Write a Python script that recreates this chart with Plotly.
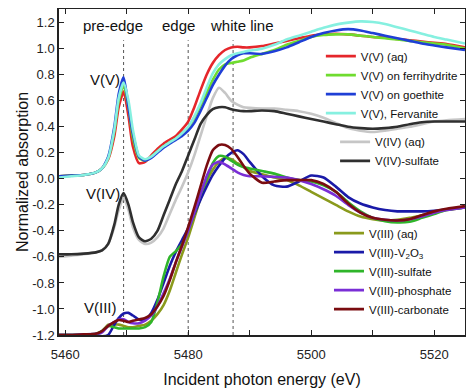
import plotly.graph_objects as go

# ---------------- data ----------------
energy = [5459, 5461, 5463, 5465, 5466, 5467, 5468, 5468.7, 5469.5, 5470.3, 5471, 5472,
          5473, 5474, 5475, 5476, 5477, 5478, 5479, 5480, 5481, 5482, 5483, 5484, 5485,
          5486, 5487, 5488, 5489, 5490, 5492, 5494, 5496, 5498, 5500, 5502, 5504, 5506,
          5508, 5510, 5512, 5514, 5516, 5518, 5520, 5522, 5525]

v5_aq = [0.02, 0.025, 0.03, 0.05, 0.08, 0.15, 0.33, 0.55, 0.67, 0.48, 0.25, 0.12,
         0.13, 0.18, 0.23, 0.27, 0.30, 0.33, 0.38, 0.44, 0.55, 0.68, 0.80, 0.89, 0.95,
         0.99, 1.01, 1.015, 1.01, 1.01, 1.02, 1.04, 1.06, 1.08, 1.10, 1.11, 1.115, 1.11,
         1.10, 1.09, 1.085, 1.075, 1.065, 1.055, 1.045, 1.035, 1.01]
v5_ferri = [0.02, 0.025, 0.03, 0.05, 0.08, 0.16, 0.37, 0.60, 0.72, 0.55, 0.32, 0.16,
            0.14, 0.17, 0.21, 0.25, 0.28, 0.31, 0.35, 0.39, 0.47, 0.56, 0.66, 0.76, 0.84,
            0.88, 0.89, 0.90, 0.91, 0.93, 0.96, 0.99, 1.03, 1.06, 1.09, 1.105, 1.11, 1.11,
            1.10, 1.09, 1.08, 1.07, 1.06, 1.05, 1.04, 1.03, 1.00]
v5_goeth = [0.02, 0.025, 0.03, 0.05, 0.08, 0.17, 0.40, 0.65, 0.78, 0.55, 0.35, 0.17,
            0.14, 0.16, 0.20, 0.24, 0.27, 0.30, 0.33, 0.37, 0.43, 0.52, 0.62, 0.72, 0.80,
            0.87, 0.92, 0.95, 0.965, 0.965, 0.96, 0.98, 1.01, 1.05, 1.09, 1.12, 1.14, 1.15,
            1.14, 1.12, 1.10, 1.08, 1.06, 1.04, 1.025, 1.01, 0.99]
v5_ferv = [0.01, 0.02, 0.03, 0.05, 0.08, 0.16, 0.38, 0.62, 0.74, 0.60, 0.38, 0.18,
           0.15, 0.17, 0.21, 0.25, 0.28, 0.31, 0.35, 0.40, 0.48, 0.58, 0.70, 0.81, 0.88,
           0.92, 0.95, 0.965, 0.975, 0.985, 1.00, 1.03, 1.07, 1.10, 1.13, 1.16, 1.185, 1.20,
           1.21, 1.205, 1.19, 1.165, 1.14, 1.115, 1.09, 1.07, 1.04]

v4_aq = [-0.60, -0.59, -0.58, -0.565, -0.55, -0.50, -0.37, -0.24, -0.15, -0.24, -0.37, -0.47,
         -0.50, -0.49, -0.45, -0.38, -0.27, -0.16, -0.06, 0.05, 0.18, 0.33, 0.48, 0.62, 0.70,
         0.66, 0.60, 0.57, 0.55, 0.545, 0.54, 0.54, 0.53, 0.52, 0.50, 0.47, 0.43, 0.39,
         0.37, 0.36, 0.37, 0.385, 0.40, 0.42, 0.44, 0.45, 0.46]
v4_sulf = [-0.58, -0.58, -0.575, -0.565, -0.55, -0.50, -0.35, -0.20, -0.11, -0.20, -0.33, -0.45,
           -0.48, -0.46, -0.40, -0.28, -0.16, -0.04, 0.06, 0.18, 0.30, 0.42, 0.49, 0.535, 0.55,
           0.55, 0.535, 0.525, 0.52, 0.52, 0.525, 0.52, 0.50, 0.48, 0.46, 0.44, 0.42, 0.40,
           0.39, 0.385, 0.39, 0.40, 0.42, 0.435, 0.44, 0.44, 0.44]

v3_aq = [-1.2, -1.2, -1.195, -1.19, -1.17, -1.12, -1.12, -1.12, -1.13, -1.14, -1.14, -1.13,
         -1.12, -1.09, -1.04, -0.97, -0.86, -0.72, -0.58, -0.45, -0.30, -0.15, -0.02, 0.07, 0.13,
         0.16, 0.15, 0.12, 0.09, 0.06, 0.035, 0.01, -0.01, -0.05, -0.10, -0.15, -0.20, -0.25,
         -0.29, -0.31, -0.32, -0.315, -0.30, -0.28, -0.26, -0.24, -0.22]
v3_v2o3 = [-1.2, -1.2, -1.2, -1.2, -1.21, -1.2, -1.12, -1.07, -1.035, -1.03, -1.05, -1.08,
           -1.08, -1.03, -0.93, -0.80, -0.67, -0.56, -0.47, -0.38, -0.27, -0.16, -0.06, 0.03, 0.10,
           0.16, 0.20, 0.22, 0.19, 0.13, 0.02, -0.05, -0.06, -0.02, 0.025, 0.01, -0.06, -0.14,
           -0.19, -0.22, -0.24, -0.25, -0.25, -0.25, -0.245, -0.235, -0.22]
v3_sulf = [-1.2, -1.2, -1.195, -1.19, -1.17, -1.13, -1.14, -1.15, -1.15, -1.15, -1.15, -1.15,
           -1.14, -1.10, -0.95, -0.75, -0.60, -0.555, -0.50, -0.40, -0.26, -0.12, 0.0, 0.12, 0.175,
           0.17, 0.14, 0.11, 0.09, 0.08, 0.06, 0.04, 0.01, -0.01, -0.02, -0.05, -0.10, -0.18,
           -0.25, -0.30, -0.325, -0.335, -0.33, -0.30, -0.27, -0.24, -0.22]
v3_phos = [-1.2, -1.2, -1.195, -1.19, -1.18, -1.13, -1.10, -1.08, -1.08, -1.10, -1.11, -1.11,
           -1.09, -1.05, -0.98, -0.88, -0.77, -0.64, -0.52, -0.40, -0.26, -0.12, 0.02, 0.11, 0.13,
           0.11, 0.08, 0.05, 0.03, 0.02, 0.02, 0.015, 0.01, -0.01, -0.04, -0.08, -0.13, -0.20,
           -0.26, -0.30, -0.315, -0.32, -0.31, -0.29, -0.26, -0.24, -0.22]
v3_carb = [-1.2, -1.2, -1.195, -1.19, -1.17, -1.13, -1.10, -1.085, -1.09, -1.10, -1.09, -1.08,
           -1.07, -1.04, -0.98, -0.90, -0.78, -0.64, -0.51, -0.37, -0.22, -0.06, 0.10, 0.22, 0.26,
           0.26, 0.23, 0.17, 0.10, 0.04, -0.03, -0.02, -0.01, -0.01, -0.01, -0.04, -0.10, -0.19,
           -0.26, -0.30, -0.315, -0.32, -0.31, -0.28, -0.25, -0.23, -0.21]

region_x = [5469.5, 5480, 5487.3]
region_names = ["pre-edge", "edge", "white line"]
region_label_x = [5467.8, 5478.4, 5488.8]

xtick_vals = [5460, 5480, 5500, 5520]
ytick_vals = [1.2, 1.0, 0.8, 0.6, 0.4, 0.2, 0.0, -0.2, -0.4, -0.6, -0.8, -1.0, -1.2]
ytick_text = ["1.2", "1.0", "0.8", "0.6", "0.4", "0.2", "0.0", "-0.2", "-0.4", "-0.6",
              "-0.8", "-1.0", "-1.2"]

series = [
    ("V(V) (aq)", v5_aq, "#e5262b", "legend"),
    ("V(V) on ferrihydrite", v5_ferri, "#6fdc2f", "legend"),
    ("V(V) on goethite", v5_goeth, "#1f3fd6", "legend"),
    ("V(V), Fervanite", v5_ferv, "#86f0e0", "legend"),
    ("V(IV) (aq)", v4_aq, "#c6c6c6", "legend2"),
    ("V(IV)-sulfate", v4_sulf, "#2f2f2f", "legend2"),
    ("V(III) (aq)", v3_aq, "#8a9a1c", "legend3"),
    ("V(III)-V<sub>2</sub>O<sub>3</sub>", v3_v2o3, "#1a1aa8", "legend3"),
    ("V(III)-sulfate", v3_sulf, "#2fb52a", "legend3"),
    ("V(III)-phosphate", v3_phos, "#7a2ed6", "legend3"),
    ("V(III)-carbonate", v3_carb, "#7a0c10", "legend3"),
]

FONT = "Liberation Sans, Arial, sans-serif"
fig = go.Figure()
for name, ys, color, leg in series:
    fig.add_trace(go.Scatter(x=energy, y=ys, mode="lines", name=name, legend=leg,
                             line=dict(color=color, width=2.6, shape="spline", smoothing=0.6)))

for xv in region_x:
    fig.add_shape(type="line", xref="x", yref="y", x0=xv, x1=xv, y0=-1.2, y1=1.065,
                  line=dict(color="#555555", width=1, dash="dot"), layer="below")

for lx, txt in zip(region_label_x, region_names):
    fig.add_annotation(x=lx, y=1.18, xref="x", yref="y", text=txt, showarrow=False,
                       font=dict(size=15, color="#111111", family=FONT))

for txt, lx, ly in [("V(V)", 5469.3, 0.76), ("V(IV)", 5469.3, -0.11), ("V(III)", 5468.7, -0.99)]:
    fig.add_annotation(x=lx, y=ly, xref="x", yref="y", text=txt, showarrow=False,
                       xanchor="right", font=dict(size=15, color="#111111", family=FONT))

legend_common = dict(bgcolor="rgba(0,0,0,0)", font=dict(size=11.5, color="#111111", family=FONT),
                     itemwidth=30, xanchor="left", yanchor="top", tracegroupgap=0)
# the page body adds an 8px offset, so the figure is 8px smaller than the window
fig.update_layout(
    width=466, height=382,
    margin=dict(l=51, r=9, t=1, b=55),
    paper_bgcolor="white", plot_bgcolor="white",
    font=dict(family=FONT, color="#111111"),
    legend=dict(x=0.645, y=0.9, **legend_common),
    legend2=dict(x=0.68, y=0.637, **legend_common),
    legend3=dict(x=0.665, y=0.357, **legend_common),
    xaxis=dict(range=[5459, 5525], tickvals=xtick_vals, ticks="inside", ticklen=5,
               tickwidth=1.2, tickcolor="#222", showline=True, linecolor="#222", linewidth=1.5,
               mirror="ticks", showgrid=False, zeroline=False, automargin=False,
               ticklabelstandoff=7,
               tickfont=dict(size=13, family=FONT, color="#222"),
               minor=dict(dtick=10, tick0=5460, ticks="inside", ticklen=5, tickcolor="#222"),
               title=dict(text="Incident photon energy (eV)", font=dict(size=16, family=FONT),
                          standoff=12)),
    yaxis=dict(range=[-1.2, 1.305], tickvals=ytick_vals, ticktext=ytick_text, ticks="inside",
               ticklen=5, tickwidth=1.2, tickcolor="#222", showline=True, linecolor="#222",
               linewidth=1.5, mirror="ticks", showgrid=False, zeroline=False, automargin=False,
               tickfont=dict(size=13, family=FONT, color="#222"),
               title=dict(text="Normalized absorption", font=dict(size=16, family=FONT),
                          standoff=0)),
)
fig.write_html("out.html")
